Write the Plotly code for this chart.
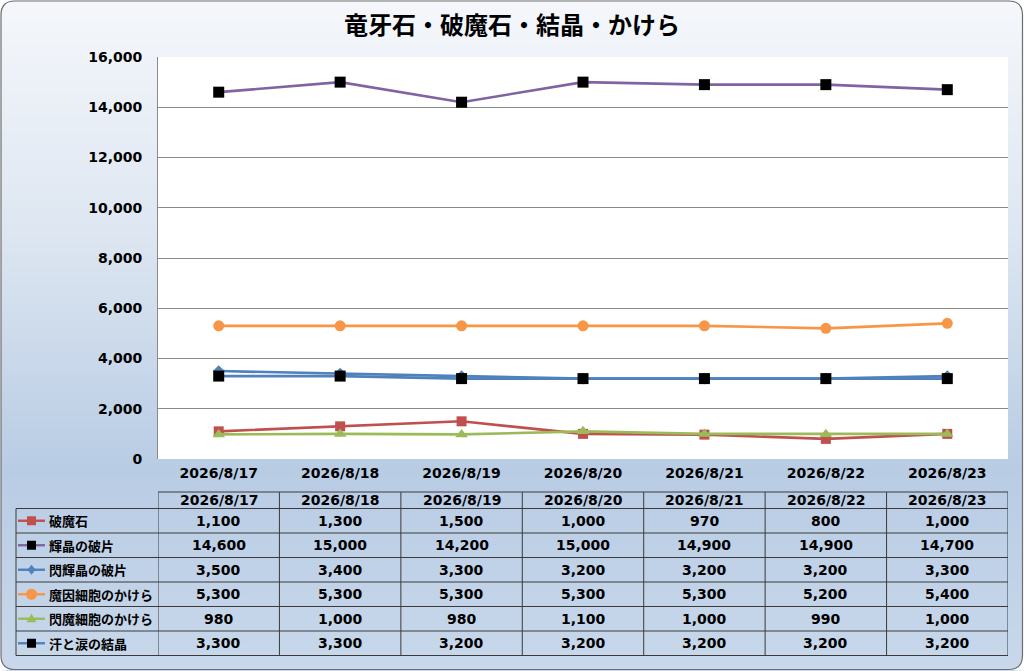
import plotly.graph_objects as go

# ---------------- data ----------------
categories = ["2026/8/17", "2026/8/18", "2026/8/19", "2026/8/20",
              "2026/8/21", "2026/8/22", "2026/8/23"]
series_names = ["破魔石", "輝晶の破片", "閃輝晶の破片",
                "魔因細胞のかけら", "閃魔細胞のかけら", "汗と涙の結晶"]
hamaseki = [1100, 1300, 1500, 1000, 970, 800, 1000]
kisho_hahen = [14600, 15000, 14200, 15000, 14900, 14900, 14700]
senkisho_hahen = [3500, 3400, 3300, 3200, 3200, 3200, 3300]
main_saibo = [5300, 5300, 5300, 5300, 5300, 5200, 5400]
senma_saibo = [980, 1000, 980, 1100, 1000, 990, 1000]
ase_namida = [3300, 3300, 3200, 3200, 3200, 3200, 3200]
y_tick_values = [0, 2000, 4000, 6000, 8000, 10000, 12000, 14000, 16000]
y_tick_labels = ["0", "2,000", "4,000", "6,000", "8,000",
                 "10,000", "12,000", "14,000", "16,000"]
title_text = "竜牙石・破魔石・結晶・かけら"

series_values = [hamaseki, kisho_hahen, senkisho_hahen,
                 main_saibo, senma_saibo, ase_namida]

# ---------------- styles ----------------
line_colors = ["#C0504D", "#8064A2", "#4F81BD", "#F79646", "#9BBB59", "#4F81BD"]
marker_colors = ["#C0504D", "#000000", "#4F81BD", "#F79646", "#9BBB59", "#000000"]
marker_symbols = ["square", "square", "diamond", "circle", "triangle-up", "square"]
marker_sizes = [10, 11, 9, 11, 11, 11]

W, H = 1024, 671
ML, MR, MT, MB = 158, 16, 57, 212
PW = W - ML - MR
PH = H - MT - MB

def px(x):
    return (x - ML) / PW

def py(y):
    return (H - MB - y) / PH

FONT = "DejaVu Sans, Noto Sans CJK JP, sans-serif"
CJK = "Noto Sans CJK JP, sans-serif"
NUMFONT = dict(family=FONT, size=14, color="black", weight="bold")

fig = go.Figure()

for name, vals, lc, mc, ms, sz in zip(series_names, series_values, line_colors,
                                      marker_colors, marker_symbols, marker_sizes):
    fig.add_trace(go.Scatter(
        x=categories, y=vals, name=name, mode="lines+markers",
        line=dict(color=lc, width=2.6),
        marker=dict(color=mc, symbol=ms, size=sz, line=dict(width=0)),
        showlegend=False, cliponaxis=False, hoverinfo="skip",
    ))

shapes = []
annotations = []

# ---------- background gradient ----------
def hex2rgb(h):
    h = h.lstrip("#")
    return [int(h[i:i + 2], 16) for i in (0, 2, 4)]

stops = [(0.0, "#f5f7fb"), (0.35, "#dde6f1"), (0.70, "#b8cce4"), (1.0, "#c9d8eb")]

def grad(t):
    for (t0, c0), (t1, c1) in zip(stops[:-1], stops[1:]):
        if t0 <= t <= t1:
            f = (t - t0) / (t1 - t0)
            a, b = hex2rgb(c0), hex2rgb(c1)
            return "rgb(%d,%d,%d)" % tuple(round(a[i] + (b[i] - a[i]) * f) for i in range(3))
    return stops[-1][1]

band = 3
for yy in range(0, H, band):
    shapes.append(dict(type="rect", xref="paper", yref="paper",
                       x0=px(0), x1=px(W), y0=py(yy), y1=py(min(yy + band + 1, H)),
                       fillcolor=grad((yy + band / 2) / H), line=dict(width=0),
                       layer="below"))

# white corners outside rounded frame
L, R, T, B, r = 1, 1022.5, 1, 669.5, 14
def P(x, y):
    return "%f,%f" % (px(x), py(y))
corner_paths = [
    "M%s L%s Q%s %s Z" % (P(0, 0), P(L, T + r), P(L, T), P(L + r, T)),
    "M%s L%s Q%s %s Z" % (P(W, 0), P(R - r, T), P(R, T), P(R, T + r)),
    "M%s L%s Q%s %s Z" % (P(W, H), P(R, B - r), P(R, B), P(R - r, B)),
    "M%s L%s Q%s %s Z" % (P(0, H), P(L + r, B), P(L, B), P(L, B - r)),
]
for cp in corner_paths:
    shapes.append(dict(type="path", xref="paper", yref="paper", path=cp,
                       fillcolor="white", line=dict(width=0), layer="below"))
shapes.append(dict(type="rect", xref="paper", yref="paper", x0=px(0), x1=px(L),
                   y0=py(0), y1=py(H), fillcolor="white", line=dict(width=0), layer="below"))
shapes.append(dict(type="rect", xref="paper", yref="paper", x0=px(R), x1=px(W),
                   y0=py(0), y1=py(H), fillcolor="white", line=dict(width=0), layer="below"))

# plot area white
shapes.append(dict(type="rect", xref="paper", yref="paper", x0=0, x1=1, y0=0, y1=1,
                   fillcolor="white", line=dict(width=0), layer="below"))

# frame border
frame = ("M%s L%s Q%s %s L%s Q%s %s L%s Q%s %s L%s Q%s %s Z" % (
    P(L + r, T), P(R - r, T), P(R, T), P(R, T + r),
    P(R, B - r), P(R, B), P(R - r, B),
    P(L + r, B), P(L, B), P(L, B - r),
    P(L, T + r), P(L, T), P(L + r, T)))
shapes.append(dict(type="path", xref="paper", yref="paper", path=frame,
                   line=dict(color="#6e6e6e", width=1.2), layer="above"))

# ---------- data table ----------
row_lines = [492, 508.5, 533, 557.5, 582, 606.5, 631, 655.5]
TBL_L = 16
GRID = "#3a3a3a"
shapes.append(dict(type="line", xref="x", yref="paper", x0=-0.5, x1=len(categories) - 0.5,
                   y0=py(row_lines[0]), y1=py(row_lines[0]), line=dict(color=GRID, width=1)))
for yl in row_lines[1:]:
    shapes.append(dict(type="line", xref="paper", yref="paper", x0=px(TBL_L), x1=1,
                       y0=py(yl), y1=py(yl), line=dict(color=GRID, width=1)))
for i in range(len(categories) + 1):
    shapes.append(dict(type="line", xref="x", yref="paper", x0=i - 0.5, x1=i - 0.5,
                       y0=py(row_lines[0]), y1=py(row_lines[-1]), line=dict(color=GRID, width=1)))
shapes.append(dict(type="line", xref="paper", yref="paper", x0=px(TBL_L), x1=px(TBL_L),
                   y0=py(row_lines[1]), y1=py(row_lines[-1]), line=dict(color=GRID, width=1)))

hdr_y = py((row_lines[0] + row_lines[1]) / 2)
for c in categories:
    annotations.append(dict(x=c, xref="x", y=hdr_y, yref="paper", text=c, showarrow=False,
                            font=NUMFONT, xanchor="center", yanchor="middle"))

def fmt(v):
    return "{:,}".format(v)

# legend key glyphs (pixel-sized shapes)
def key_marker(sym, color, xa, ya):
    base = dict(xref="paper", yref="paper", xsizemode="pixel", ysizemode="pixel",
                xanchor=xa, yanchor=ya, fillcolor=color, line=dict(width=0), layer="above")
    if sym == "square":
        return dict(type="rect", x0=-4.5, x1=4.5, y0=-4.5, y1=4.5, **base)
    if sym == "circle":
        return dict(type="circle", x0=-5.5, x1=5.5, y0=-5.5, y1=5.5, **base)
    if sym == "diamond":
        return dict(type="path", path="M0,5 L4,0 L0,-5 L-4,0 Z", **base)
    return dict(type="path", path="M0,5 L5,-3.5 L-5,-3.5 Z", **base)

for k, (name, vals) in enumerate(zip(series_names, series_values)):
    yc = (row_lines[k + 1] + row_lines[k + 2]) / 2
    for c, v in zip(categories, vals):
        annotations.append(dict(x=c, xref="x", y=py(yc), yref="paper", text=fmt(v),
                                showarrow=False, font=NUMFONT,
                                xanchor="center", yanchor="middle"))
    annotations.append(dict(x=px(47), xref="paper", y=py(yc), yref="paper", text=name,
                            showarrow=False,
                            font=dict(family=CJK, size=13, color="black", weight="bold"),
                            xanchor="left", yanchor="middle"))
    shapes.append(dict(type="line", xref="paper", yref="paper", x0=px(18), x1=px(45),
                       y0=py(yc), y1=py(yc), line=dict(color=line_colors[k], width=2.4)))
    shapes.append(key_marker(marker_symbols[k].replace("-up", ""), marker_colors[k],
                             px(31.5), py(yc)))

fig.update_layout(
    width=W, height=H,
    margin=dict(l=ML, r=MR, t=MT, b=MB, pad=0),
    paper_bgcolor="white",
    plot_bgcolor="rgba(0,0,0,0)",
    font=dict(family=FONT, size=14, color="black"),
    title=dict(text=title_text, x=0.5, xref="container", xanchor="center",
               y=1 - 26 / H, yref="container", yanchor="middle",
               font=dict(family=CJK, size=24, color="black", weight="bold")),
    xaxis=dict(type="category", range=[-0.5, len(categories) - 0.5],
               showgrid=False, zeroline=False, showline=False,
               ticks="outside", ticklen=1, tickcolor="rgba(0,0,0,0)",
               tickfont=NUMFONT),
    yaxis=dict(range=[0, 16000], tickvals=y_tick_values, ticktext=y_tick_labels,
               showgrid=True, gridcolor="#8a8a8a", gridwidth=1, zeroline=False,
               showline=True, linecolor="#8a8a8a", linewidth=1,
               ticks="outside", ticklen=12, tickcolor="rgba(0,0,0,0)",
               tickfont=NUMFONT),
    shapes=shapes,
    annotations=annotations,
    showlegend=False,
    hovermode=False,
)

fig.write_html("out.html", config={"displayModeBar": False},
               post_script="document.body.style.margin='0';document.body.style.padding='0';")
